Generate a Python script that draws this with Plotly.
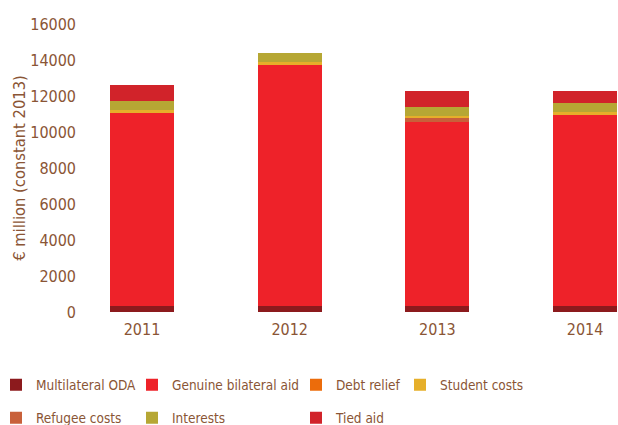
import plotly.graph_objects as go

years = ["2011", "2012", "2013", "2014"]
multilateral = [330, 320, 330, 350]
bilateral = [10700, 13400, 10230, 10600]
debt_relief = [0, 0, 0, 0]
refugee = [0, 0, 220, 0]
student = [170, 170, 110, 170]
interests = [500, 500, 500, 500]
tied = [890, 0, 890, 670]
y_ticks = [0, 2000, 4000, 6000, 8000, 10000, 12000, 14000, 16000]

TXT = "#8A5535"
FONT = "DejaVu Sans Condensed, DejaVu Sans, sans-serif"

W, H = 618, 425
L, R, T, B = 80, 618, 24, 312
pw, ph = R - L, B - T

def px_x(x):
    return (x - L) / pw

def px_y(y):
    return (B - y) / ph

series = [
    ("Multilateral ODA", multilateral, "#8C1A1D", "legend", 0, 385),
    ("Genuine bilateral aid", bilateral, "#EE2229", "legend2", 136, 385),
    ("Debt relief", debt_relief, "#EC6C0B", "legend3", 300, 385),
    ("Refugee costs", refugee, "#C8603A", "legend5", 0, 418),
    ("Student costs", student, "#E6AF2A", "legend4", 404, 385),
    ("Interests", interests, "#B6A734", "legend6", 136, 418),
    ("Tied aid", tied, "#D1232A", "legend7", 300, 418),
]

fig = go.Figure()
layout_legends = {}
for name, vals, col, lg, lx, ly in series:
    fig.add_trace(go.Bar(x=years, y=vals, name=name, marker=dict(color=col, line=dict(width=0)),
                         legend=lg))
    layout_legends[lg] = dict(x=px_x(lx - 4), y=px_y(ly), xanchor="left", yanchor="middle",
                              bgcolor="rgba(0,0,0,0)", borderwidth=0,
                              font=dict(family=FONT, size=13.5, color=TXT))

fig.update_layout(
    barmode="stack",
    bargap=0.567,
    width=W, height=H,
    margin=dict(l=L, r=W - R, t=T, b=H - B, autoexpand=False),
    paper_bgcolor="white", plot_bgcolor="white",
    font=dict(family=FONT, size=16, color=TXT),
    showlegend=True,
    **layout_legends,
)
fig.update_xaxes(type="category", range=[-0.42, 3.223], showgrid=False, zeroline=False,
                 showline=False, ticks="", ticklabelstandoff=6,
                 tickfont=dict(family=FONT, size=16, color=TXT))
fig.update_yaxes(range=[0, 16000], tickvals=y_ticks, ticktext=[str(v) for v in y_ticks],
                 showgrid=False, zeroline=False, showline=False, ticks="", ticklabelstandoff=3,
                 tickfont=dict(family=FONT, size=16, color=TXT),
                 title=dict(text="€ million (constant 2013)", font=dict(family=FONT, size=16.4, color=TXT), standoff=0))

fig.write_html("out.html", config={"displayModeBar": False},
               post_script="document.body.style.margin='0';")
